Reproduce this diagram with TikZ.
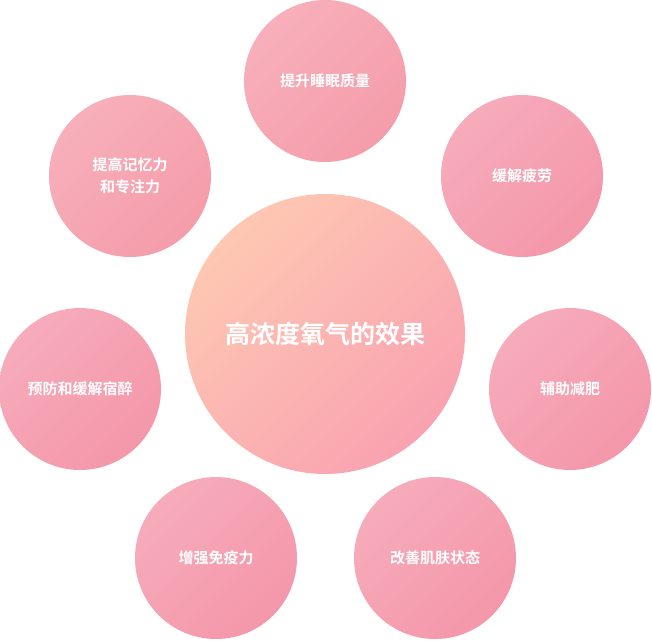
\documentclass[tikz,border=0pt]{standalone}
\usepackage{fontspec}
\setmainfont{Noto Sans CJK SC}[BoldFont={Noto Sans CJK SC Bold}]
\begin{document}
\begin{tikzpicture}[x=1pt,y=-1pt,
  small/.style={circle,minimum size=162pt,inner sep=0pt,top color=#1!80!white,bottom color=#1,shading angle=45,text=white,font=\bfseries\fontsize{15}{22}\selectfont,align=center},
  big/.style={circle,minimum size=280pt,inner sep=0pt,top color=peachA,bottom color=pinkA,shading angle=45,text=white,font=\bfseries\fontsize{25}{30}\selectfont}]
\definecolor{peachA}{HTML}{FEC8B2}
\definecolor{pinkA}{HTML}{F9A2B1}
\definecolor{c1}{HTML}{F59CAA}
\definecolor{c2}{HTML}{F497AA}
\useasboundingbox (0,0) rectangle (652,640);
\node[big] (c) at (325,334) {高浓度氧气的效果};
\node[small=c1] (a) at (325,81) {提升睡眠质量};
\node[small=c2] (b) at (522,176) {缓解疲劳};
\node[small=c2] (d) at (570,389) {辅助减肥};
\node[small=c2] (e) at (435,558) {改善肌肤状态};
\node[small=c2] (f) at (216,558) {增强免疫力};
\node[small=c2] (g) at (80,389) {预防和缓解宿醉};
\node[small=c1] (h) at (130,176) {提高记忆力\\和专注力};
\end{tikzpicture}
\end{document}
